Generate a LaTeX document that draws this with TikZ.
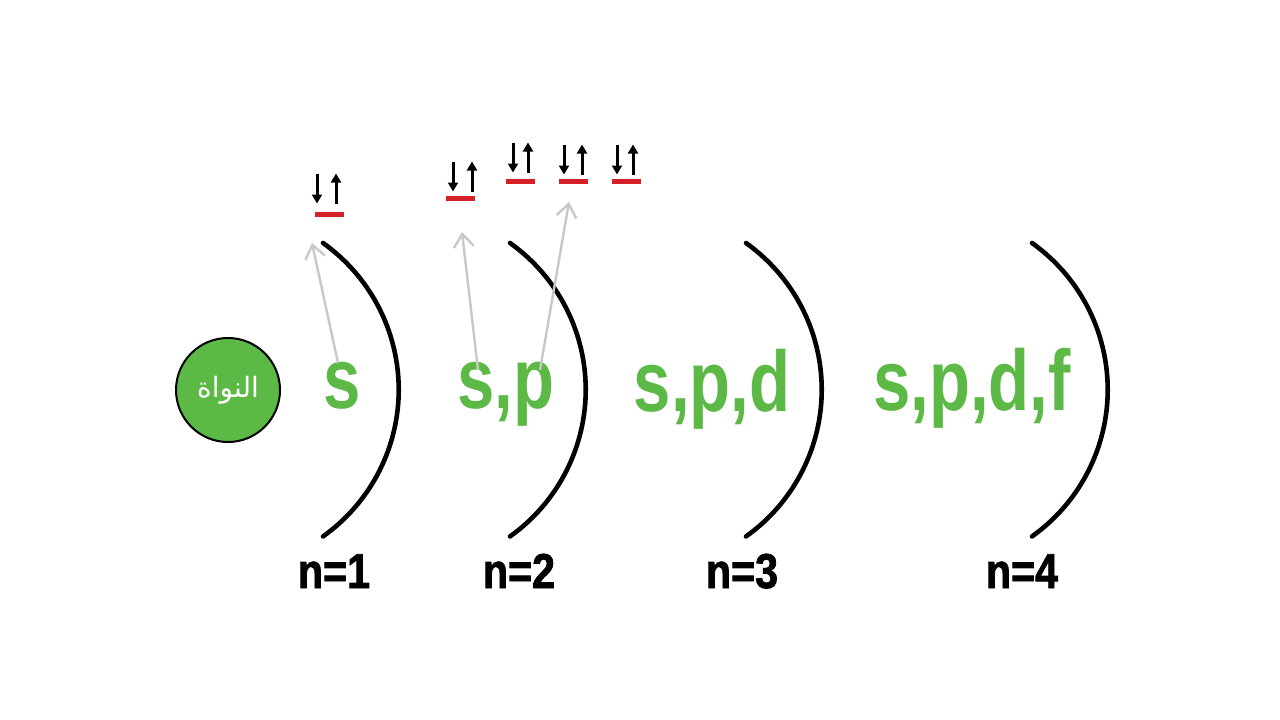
\documentclass[tikz,border=0pt]{standalone}
\usepackage{fontspec}
\usetikzlibrary{arrows.meta}
\TeXXeTstate=1
\newfontfamily\arabicfont[Script=Arabic]{DejaVu Sans}
\newfontfamily\orbfont[FakeStretch=0.78]{Liberation Sans Bold}
\newfontfamily\shellfont[FakeStretch=0.84,FakeBold=1.6]{Liberation Sans Bold}
\definecolor{leafgreen}{RGB}{92,185,70}
\definecolor{barred}{RGB}{214,32,40}
\definecolor{hintgray}{RGB}{200,200,200}
\tikzset{
  shell/.style={line width=4.6pt, line cap=round},
  orbital/.style={fill=barred, inner sep=0pt, minimum width=29pt, minimum height=5pt},
  spin/.style={line width=3pt, -{Triangle[length=9pt,width=10pt]}},
  hint/.style={hintgray, line width=2.4pt, -{Straight Barb[length=13pt,width=20pt,line width=2.4pt]}},
  sub/.style={leafgreen, anchor=base, inner sep=0pt, font=\orbfont\fontsize{86}{86}\selectfont},
  level/.style={anchor=base, inner sep=0pt, font=\shellfont\fontsize{49}{49}\selectfont}
}
\begin{document}
\begin{tikzpicture}[x=1pt,y=-1pt]
  \useasboundingbox[fill=white] (0,0) rectangle (1280,720);

  % nucleus
  \node[circle, draw=black, line width=2pt, fill=leafgreen, minimum size=104pt, inner sep=0pt,
        text=white, font=\fontsize{28}{28}\selectfont] (nucleus) at (228,390)
        {\arabicfont\beginR النواة\endR};

  % shells
  \draw[shell] (323,243) arc[start angle=-54.6, end angle=54.6, radius=180];
  \draw[shell] (510,243) arc[start angle=-54.6, end angle=54.6, radius=180];
  \draw[shell] (746,243) arc[start angle=-54.6, end angle=54.6, radius=180];
  \draw[shell] (1032,243) arc[start angle=-54.6, end angle=54.6, radius=180];

  % sublevels
  \node[sub] (sub1) at (342,408) {s};
  \node[sub] (sub2) at (506,408) {s,p};
  \node[sub] (sub3) at (712,411) {s,p,d};
  \node[sub] (sub4) at (972,410) {s,p,d,f};

  % shell numbers
  \node[level] (n1) at (334,588) {n=1};
  \node[level] (n2) at (519,588) {n=2};
  \node[level] (n3) at (742,588) {n=3};
  \node[level] (n4) at (1022,588) {n=4};

  % orbitals with electron pairs
  \node[orbital] (s1) at (329,214.5) {};
  \node[orbital] (s2) at (460,198.5) {};
  \node[orbital] (p1) at (520,181.5) {};
  \node[orbital] (p2) at (573,181.5) {};
  \node[orbital] (p3) at (626,181.5) {};

  \draw[spin] ([xshift=-12pt,yshift=41pt]s1.center) -- ++(0,30);
  \draw[spin] ([xshift=7pt,yshift=11pt]s1.center) -- ++(0,-30);
  \draw[spin] ([xshift=-7pt,yshift=37pt]s2.center) -- ++(0,30);
  \draw[spin] ([xshift=12pt,yshift=7pt]s2.center) -- ++(0,-30);
  \draw[spin] ([xshift=-7pt,yshift=39pt]p1.center) -- ++(0,30);
  \draw[spin] ([xshift=8pt,yshift=9pt]p1.center) -- ++(0,-30);
  \draw[spin] ([xshift=-9pt,yshift=37pt]p2.center) -- ++(0,30);
  \draw[spin] ([xshift=9pt,yshift=7pt]p2.center) -- ++(0,-30);
  \draw[spin] ([xshift=-9pt,yshift=37pt]p3.center) -- ++(0,30);
  \draw[spin] ([xshift=7pt,yshift=7pt]p3.center) -- ++(0,-30);

  % hints from sublevels to orbitals
  \coordinate (s1tip) at (312,243);
  \coordinate (s2tip) at (462,232);
  \coordinate (p2tip) at (569,202);
  \draw[hint] ([xshift=-4pt,yshift=45pt]sub1.base) -- (s1tip);
  \draw[hint] ([xshift=-28pt,yshift=38pt]sub2.base) -- (s2tip);
  \draw[hint] ([xshift=34pt,yshift=38pt]sub2.base) -- (p2tip);
\end{tikzpicture}
\end{document}
